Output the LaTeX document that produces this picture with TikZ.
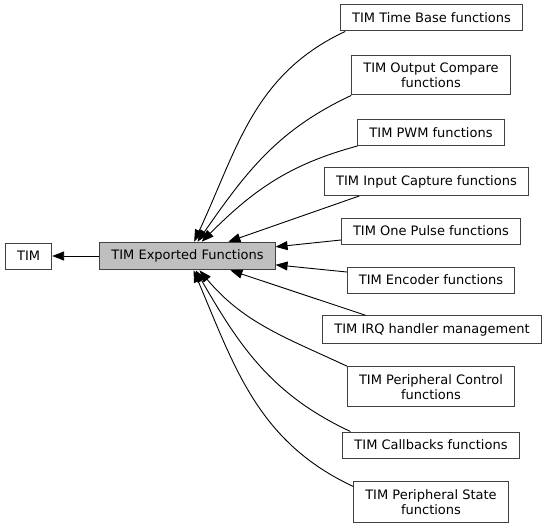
\documentclass[tikz,border=0pt]{standalone}
\usepackage{fontspec}
\setmainfont{DejaVu Sans}
\usepackage{xcolor}
\definecolor{frame}{HTML}{404040}
\definecolor{shade}{HTML}{BFBFBF}
\usepackage{tikz}
\usetikzlibrary{arrows.meta}

\begin{document}
\begin{tikzpicture}[
  x=1pt, y=-1pt,
  box/.style={draw=frame, fill=white, line width=1pt,
              minimum height=26pt, inner xsep=11.5pt, inner ysep=7.5pt,
              font=\fontsize{13}{15}\selectfont, align=center},
  mainbox/.style={box, fill=shade},
  arr/.style={-{Triangle[length=12pt,width=9pt]}, line width=0.9pt, color=black},
]
  \useasboundingbox (0,0) rectangle (545,527);

  \node[box] (tim) at (28.7,256) {TIM};
  \node[mainbox] (main) at (187.5,256) {TIM Exported Functions};

  \node[box] (tbase) at (431.5,18) {TIM Time Base functions};
  \node[box] (ocomp) at (431,75) {TIM Output Compare\\functions};
  \node[box] (pwm) at (431,132.5) {TIM PWM functions};
  \node[box] (icap) at (426.5,181.7) {TIM Input Capture functions};
  \node[box] (opulse) at (431,231) {TIM One Pulse functions};
  \node[box] (enc) at (431,280) {TIM Encoder functions};
  \node[box] (irq) at (432,329.5) {TIM IRQ handler management};
  \node[box] (pctrl) at (431,386.7) {TIM Peripheral Control\\functions};
  \node[box] (cback) at (431,445) {TIM Callbacks functions};
  \node[box] (pstate) at (431,502) {TIM Peripheral State\\functions};

  \draw[arr] (main) -- (tim);

  \draw[arr] ([xshift=5pt]tbase.south west) to[out=205,in=65] (main);
  \draw[arr] (ocomp.south west) to[out=205,in=55] (main);
  \draw[arr] (pwm.south west) to[out=195,in=45] (main);
  \draw[arr] ([xshift=35pt]icap.south west) -- (main);
  \draw[arr] ([yshift=-9pt]opulse.west) -- (main);
  \draw[arr] ([yshift=8pt]enc.west) -- (main);
  \draw[arr] ([xshift=43pt]irq.north west) -- (main);
  \draw[arr] (pctrl.north west) to[out=155,in=-50] (main);
  \draw[arr] ([xshift=8pt]cback.north west) to[out=155,in=-60] (main);
  \draw[arr] ([yshift=-5pt]pstate.north west) to[out=155,in=-67] (main);
\end{tikzpicture}
\end{document}
